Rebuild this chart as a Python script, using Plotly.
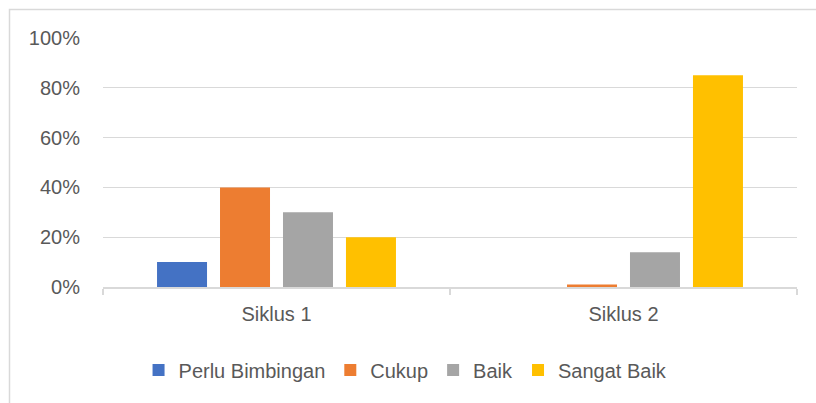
import plotly.graph_objects as go

categories = ["Siklus 1", "Siklus 2"]
series_names = ["Perlu Bimbingan", "Cukup", "Baik", "Sangat Baik"]
perlu_bimbingan = [0.10, 0.0]
cukup = [0.40, 0.01]
baik = [0.30, 0.14]
sangat_baik = [0.20, 0.85]
colors = ["#4472C4", "#ED7D31", "#A5A5A5", "#FFC000"]
y_ticks = [0, 0.2, 0.4, 0.6, 0.8, 1.0]
y_tick_labels = ["0%", "20%", "40%", "60%", "80%", "100%"]

FONT = "Liberation Sans"
TXT = "#595959"
GRID = "#D9D9D9"

fig = go.Figure()
for name, vals, col in zip(series_names, [perlu_bimbingan, cukup, baik, sangat_baik], colors):
    fig.add_trace(go.Bar(name=name, x=categories, y=vals, marker=dict(color=col, line=dict(width=0)),
                         hoverinfo="skip"))

fig.update_layout(
    width=816, height=403,
    margin=dict(l=103, r=19, t=38, b=116),
    paper_bgcolor="white", plot_bgcolor="white",
    barmode="group", bargap=0.274, bargroupgap=0.206,
    font=dict(family=FONT, size=20, color=TXT),
    showlegend=True,
    legend=dict(orientation="h", xref="container", x=0.497, xanchor="center",
                yref="container", y=0.082, yanchor="middle",
                font=dict(family=FONT, size=20, color=TXT), bgcolor="rgba(0,0,0,0)",
                traceorder="normal"),
)
fig.update_yaxes(range=[0, 1], tickvals=y_ticks, ticktext=y_tick_labels,
                 showgrid=True, gridcolor=GRID, gridwidth=1, zeroline=False,
                 showline=False, ticks="", ticklabelstandoff=22,
                 tickfont=dict(family=FONT, size=20, color=TXT))
fig.update_xaxes(showline=True, linecolor=GRID, linewidth=1.5, tickson="boundaries",
                 ticks="outside", ticklen=6, tickcolor=GRID, tickwidth=1.5,
                 showgrid=False, ticklabelstandoff=8,
                 tickfont=dict(family=FONT, size=20, color=TXT))

# outer chart border (extends beyond the image right/bottom)
fig.add_shape(type="rect", xref="paper", yref="paper", x0=-93.5/694, x1=820/694 + 0.2,
              y0=-0.8, y1=1 + 28.5/249, line=dict(color=GRID, width=1.5), fillcolor="rgba(0,0,0,0)",
              layer="below")

fig.write_html("out.html", config={"displayModeBar": False, "staticPlot": True},
               post_script="document.body.style.margin='0';document.body.style.overflow='hidden';")
